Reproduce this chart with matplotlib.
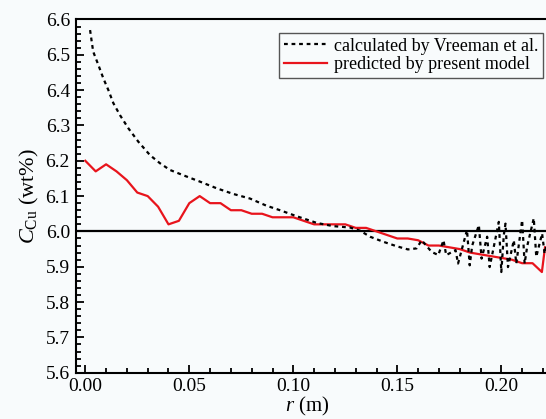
import matplotlib
matplotlib.use("Agg")
import matplotlib.pyplot as plt
from matplotlib.ticker import MultipleLocator

# ---- data ----
r_vreeman = [0.0023, 0.0031, 0.0038, 0.0063, 0.0087, 0.0111, 0.0135, 0.0167, 0.0207, 0.0255,
             0.0311, 0.0359, 0.0407, 0.0471, 0.0551, 0.0632, 0.0712, 0.0792, 0.0870, 0.0936,
             0.1016, 0.1113, 0.1191, 0.1273, 0.1321, 0.1369, 0.1431, 0.1497, 0.1551, 0.1593,
             0.1617, 0.1665, 0.1697, 0.1722, 0.1735, 0.1780, 0.1792, 0.1835, 0.1848, 0.1860,
             0.1892, 0.1905, 0.1932, 0.1944, 0.1988, 0.2000, 0.2012, 0.2020, 0.2032, 0.2060,
             0.2072, 0.2100, 0.2112, 0.2125, 0.2156, 0.2168, 0.2196, 0.2208, 0.2225]
c_vreeman = [6.570, 6.537, 6.509, 6.471, 6.433, 6.400, 6.363, 6.329, 6.292, 6.254,
             6.216, 6.193, 6.174, 6.159, 6.141, 6.122, 6.106, 6.093, 6.073, 6.060,
             6.043, 6.024, 6.015, 6.011, 6.002, 5.985, 5.971, 5.958, 5.949, 5.952,
             5.975, 5.942, 5.933, 5.975, 5.933, 5.947, 5.909, 6.004, 5.904, 5.960,
             6.018, 5.923, 5.985, 5.899, 6.027, 5.885, 5.990, 6.022, 5.899, 5.975,
             5.909, 6.032, 5.909, 5.960, 6.037, 5.928, 5.994, 5.937, 5.980]

r_model = [0.000, 0.005, 0.010, 0.015, 0.020, 0.025, 0.030, 0.035, 0.040, 0.045,
           0.050, 0.055, 0.060, 0.065, 0.070, 0.075, 0.080, 0.085, 0.090, 0.095,
           0.100, 0.105, 0.110, 0.115, 0.120, 0.125, 0.130, 0.135, 0.140, 0.145,
           0.150, 0.155, 0.160, 0.165, 0.170, 0.175, 0.180, 0.185, 0.190, 0.195,
           0.200, 0.205, 0.210, 0.215, 0.2195, 0.221]
c_model = [6.20, 6.17, 6.19, 6.17, 6.145, 6.11, 6.10, 6.07, 6.02, 6.03,
           6.08, 6.10, 6.08, 6.08, 6.06, 6.06, 6.05, 6.05, 6.04, 6.04,
           6.04, 6.03, 6.02, 6.02, 6.02, 6.02, 6.01, 6.01, 6.00, 5.99,
           5.98, 5.98, 5.975, 5.96, 5.96, 5.955, 5.95, 5.94, 5.935, 5.93,
           5.925, 5.92, 5.91, 5.91, 5.885, 5.955]

reference_level = 6.0
label_vreeman = "calculated by Vreeman et al."
label_model = "predicted by present model"
xlabel = r"$r$ (m)"
ylabel = r"$C_{\rm Cu}$ (wt%)"

# ---- style ----
plt.rcParams['font.family'] = ['Liberation Serif', 'DejaVu Serif']
plt.rcParams['mathtext.fontset'] = 'custom'
plt.rcParams['mathtext.rm'] = 'Liberation Serif'
plt.rcParams['mathtext.it'] = 'Liberation Serif:italic'
bg = '#f8fbfc'

fig = plt.figure(figsize=(5.46, 4.19), dpi=100, facecolor=bg)
ax = fig.add_axes([0.1383, 0.1105, 0.8694, 0.843], facecolor=bg)

ax.axhline(reference_level, color='black', lw=1.6, zorder=1)
ax.plot(r_vreeman, c_vreeman, color='black', lw=1.6, linestyle=(0, (1.7, 1.7)),
        label=label_vreeman, zorder=3)
ax.plot(r_model, c_model, color='#e8141c', lw=1.6, label=label_model, zorder=2)

ax.set_xlim(-0.0047, 0.2235)
ax.set_ylim(5.6, 6.6)
ax.xaxis.set_major_locator(MultipleLocator(0.05))
ax.xaxis.set_minor_locator(MultipleLocator(0.01))
ax.yaxis.set_major_locator(MultipleLocator(0.1))
ax.yaxis.set_minor_locator(MultipleLocator(0.02))
ax.xaxis.set_major_formatter(plt.FuncFormatter(lambda v, p: f"{v:.2f}"))
ax.yaxis.set_major_formatter(plt.FuncFormatter(lambda v, p: f"{v:.1f}"))
ax.tick_params(which='both', direction='in', top=False, right=False, width=1.3,
               labelsize=14, colors='black')
ax.tick_params(axis='x', which='major', length=6, pad=3.5)
ax.tick_params(axis='y', which='major', length=6, pad=4)
ax.tick_params(which='minor', length=3.5)
for s in ax.spines.values():
    s.set_linewidth(1.5)

ax.set_xlabel(xlabel, fontsize=15)
ax.xaxis.label.set_va('bottom')
ax.xaxis.set_label_coords(0.5 - 0.0125, (1 - 46.3) / 353.2)
ax.set_ylabel(ylabel, fontsize=16, labelpad=3)

leg = ax.legend(loc='upper right', bbox_to_anchor=(543 / 546, 1 - 33 / 419),
                bbox_transform=fig.transFigure, borderaxespad=0, fontsize=13,
                frameon=True, fancybox=False, edgecolor='#555555', facecolor=bg,
                framealpha=1, handlelength=2.4, handletextpad=0.4, borderpad=0.25,
                labelspacing=0.1)
leg.get_frame().set_linewidth(1.0)

fig.savefig('out.png', dpi=100, facecolor=bg)
